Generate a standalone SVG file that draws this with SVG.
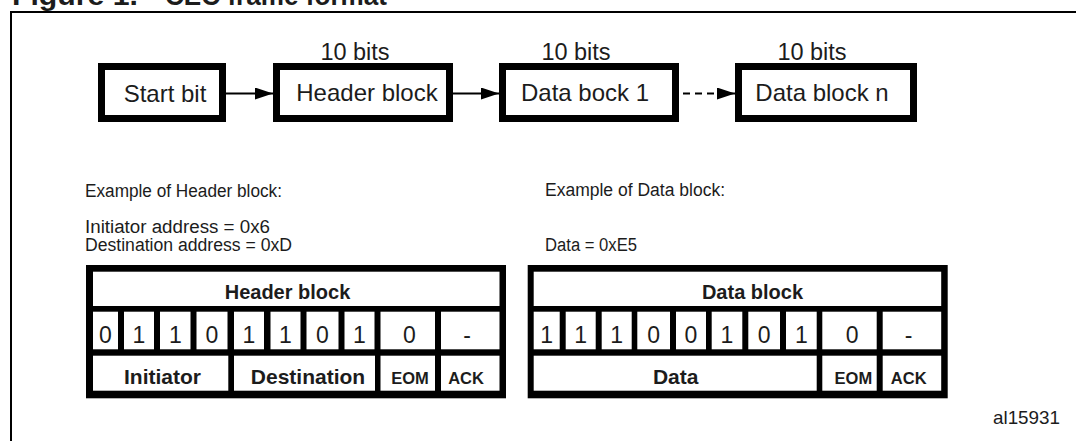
<svg xmlns="http://www.w3.org/2000/svg" width="1076" height="441" viewBox="0 0 1076 441">
<defs>
<style>
text{font-family:"Liberation Sans",Arial,sans-serif;fill:#1c1c1c}
.box{fill:#fff;stroke:#000;stroke-width:7}
.lbl{font-size:24px;text-anchor:middle}
.bits{font-size:23.5px;text-anchor:middle}
.note{font-size:18px}
.tb{fill:#000}
.cell{fill:#fff}
.tt{font-size:20px;font-weight:bold;text-anchor:middle}
.dg{font-size:23px;text-anchor:middle}
.lb{font-size:21px;font-weight:bold;text-anchor:middle}
.sm{font-size:16.5px;font-weight:bold;text-anchor:middle}
.conn{stroke:#000;stroke-width:2;fill:none}
</style>
<marker id="ah" viewBox="0 0 18 12" refX="18" refY="6" markerWidth="18" markerHeight="12" markerUnits="userSpaceOnUse" orient="auto">
<path d="M0,0 L18,6 L0,12 Z" fill="#000"/>
</marker>
</defs>

<g id="title">
<text x="12" y="5" font-size="27" font-weight="bold" textLength="126" lengthAdjust="spacingAndGlyphs">Figure 1.</text>
<text x="165" y="5" font-size="27" font-weight="bold" textLength="222" lengthAdjust="spacingAndGlyphs">CEC frame format</text>
</g>

<path id="frame" d="M11,441 V12 H1076" fill="none" stroke="#000" stroke-width="2"/>

<g id="connectors">
<line class="conn" x1="226" y1="93.5" x2="273" y2="93.5" marker-end="url(#ah)"/>
<line class="conn" x1="453" y1="93.5" x2="499" y2="93.5" marker-end="url(#ah)"/>
<line class="conn" x1="683" y1="93.5" x2="717" y2="93.5" stroke-dasharray="7 5"/>
<line class="conn" x1="717" y1="93.5" x2="735" y2="93.5" marker-end="url(#ah)"/>
</g>

<g id="start-bit">
<rect class="box" x="101.5" y="66.5" width="121" height="52"/>
<text class="lbl" x="165" y="102">Start bit</text>
</g>
<g id="header-block">
<rect class="box" x="276.5" y="66.5" width="173" height="52"/>
<text class="bits" x="355" y="60">10 bits</text>
<text class="lbl" x="367" y="101">Header block</text>
</g>
<g id="data-block-1">
<rect class="box" x="502.5" y="66.5" width="173" height="52"/>
<text class="bits" x="576" y="60">10 bits</text>
<text class="lbl" x="585" y="101">Data bock 1</text>
</g>
<g id="data-block-n">
<rect class="box" x="738.5" y="66.5" width="175" height="52"/>
<text class="bits" x="812" y="60">10 bits</text>
<text class="lbl" x="822" y="101">Data block n</text>
</g>

<g id="header-notes">
<text class="note" x="85" y="197" textLength="197" lengthAdjust="spacingAndGlyphs">Example of Header block:</text>
<text class="note" x="85" y="233" textLength="185" lengthAdjust="spacingAndGlyphs">Initiator address = 0x6</text>
<text class="note" x="85" y="251" textLength="207" lengthAdjust="spacingAndGlyphs">Destination address = 0xD</text>
</g>
<g id="data-notes">
<text class="note" x="545" y="196" textLength="180" lengthAdjust="spacingAndGlyphs">Example of Data block:</text>
<text class="note" x="545" y="251" textLength="92" lengthAdjust="spacingAndGlyphs">Data = 0xE5</text>
</g>

<g id="header-table" transform="translate(86,265)">
<rect class="tb" x="0" y="0" width="420" height="133.3"/>
<rect class="cell" x="7" y="6.7" width="406.5" height="34.3"/>
<rect class="cell" x="7" y="46.7" width="25" height="37.6"/>
<rect class="cell" x="38" y="46.7" width="30" height="37.6"/>
<rect class="cell" x="74" y="46.7" width="30.5" height="37.6"/>
<rect class="cell" x="110.5" y="46.7" width="31" height="37.6"/>
<rect class="cell" x="148" y="46.7" width="30" height="37.6"/>
<rect class="cell" x="184.5" y="46.7" width="30" height="37.6"/>
<rect class="cell" x="220.5" y="46.7" width="32" height="37.6"/>
<rect class="cell" x="258.5" y="46.7" width="30" height="37.6"/>
<rect class="cell" x="294.5" y="46.7" width="54.5" height="37.6"/>
<rect class="cell" x="355" y="46.7" width="58.5" height="37.6"/>
<rect class="cell" x="7" y="90.7" width="135.3" height="35"/>
<rect class="cell" x="148" y="90.7" width="141" height="35"/>
<rect class="cell" x="294.5" y="90.7" width="54.5" height="35"/>
<rect class="cell" x="355" y="90.7" width="58.5" height="35"/>
<text class="tt" x="201.5" y="34">Header block</text>
<text class="dg" x="19.5" y="78">0</text>
<text class="dg" x="53" y="78">1</text>
<text class="dg" x="89.3" y="78">1</text>
<text class="dg" x="126" y="78">0</text>
<text class="dg" x="163" y="78">1</text>
<text class="dg" x="199.5" y="78">1</text>
<text class="dg" x="236.5" y="78">0</text>
<text class="dg" x="273.5" y="78">1</text>
<text class="dg" x="323.5" y="78">0</text>
<text class="dg" x="381" y="78">-</text>
<text class="lb" x="76.5" y="119">Initiator</text>
<text class="lb" x="222" y="119">Destination</text>
<text class="sm" x="324" y="119">EOM</text>
<text class="sm" x="380" y="119">ACK</text>
</g>

<g id="data-table" transform="translate(527.7,265)">
<rect class="tb" x="0" y="0" width="420" height="133.3"/>
<rect class="cell" x="6" y="6.7" width="407.5" height="34.3"/>
<rect class="cell" x="6" y="46.7" width="26" height="37.6"/>
<rect class="cell" x="38" y="46.7" width="30" height="37.6"/>
<rect class="cell" x="74" y="46.7" width="30" height="37.6"/>
<rect class="cell" x="109.6" y="46.7" width="32.7" height="37.6"/>
<rect class="cell" x="148.3" y="46.7" width="30" height="37.6"/>
<rect class="cell" x="184" y="46.7" width="30.6" height="37.6"/>
<rect class="cell" x="220.6" y="46.7" width="31.7" height="37.6"/>
<rect class="cell" x="258.3" y="46.7" width="30.7" height="37.6"/>
<rect class="cell" x="294.6" y="46.7" width="54.4" height="37.6"/>
<rect class="cell" x="355" y="46.7" width="58.5" height="37.6"/>
<rect class="cell" x="6" y="90.7" width="283" height="35"/>
<rect class="cell" x="294.6" y="90.7" width="54.4" height="35"/>
<rect class="cell" x="355" y="90.7" width="58.5" height="35"/>
<text class="tt" x="224.8" y="34">Data block</text>
<text class="dg" x="19" y="78">1</text>
<text class="dg" x="53" y="78">1</text>
<text class="dg" x="89" y="78">1</text>
<text class="dg" x="126" y="78">0</text>
<text class="dg" x="163.3" y="78">0</text>
<text class="dg" x="199.3" y="78">1</text>
<text class="dg" x="236.5" y="78">0</text>
<text class="dg" x="273.7" y="78">1</text>
<text class="dg" x="324.5" y="78">0</text>
<text class="dg" x="381" y="78">-</text>
<text class="lb" x="148" y="119">Data</text>
<text class="sm" x="325.7" y="119">EOM</text>
<text class="sm" x="381" y="119">ACK</text>
</g>

<g id="ref-code">
<text x="993" y="424" font-size="19" textLength="67" lengthAdjust="spacingAndGlyphs">al15931</text>
</g>
</svg>
